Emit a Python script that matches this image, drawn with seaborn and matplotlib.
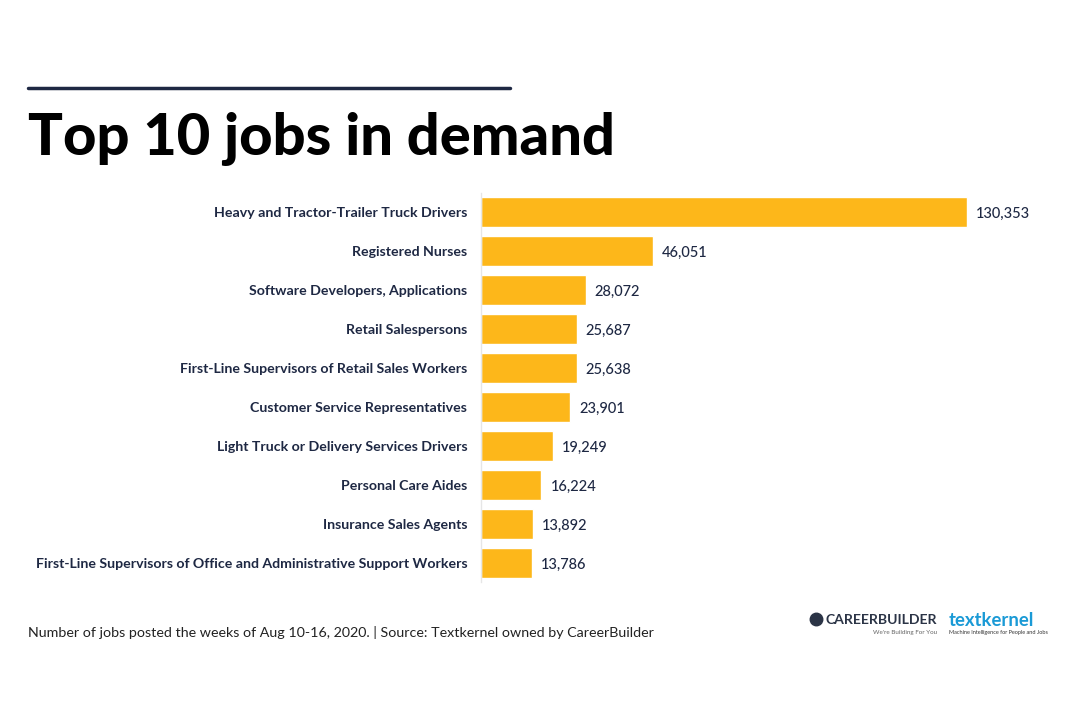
import pandas as pd
import matplotlib.pyplot as plt
import seaborn as sns

jobs = [
    "Heavy and Tractor-Trailer Truck Drivers",
    "Registered Nurses",
    "Software Developers, Applications",
    "Retail Salespersons",
    "First-Line Supervisors of Retail Sales Workers",
    "Customer Service Representatives",
    "Light Truck or Delivery Services Drivers",
    "Personal Care Aides",
    "Insurance Sales Agents",
    "First-Line Supervisors of Office and Administrative Support Workers",
]
postings = [130353, 46051, 28072, 25687, 25638, 23901, 19249, 16224, 13892, 13786]

data = pd.DataFrame({"job": jobs, "postings": postings})

sns.set_style("white")
plt.rcParams["font.family"] = ["Lato", "DejaVu Sans"]

navy = "#1e2843"
gold = "#fdb71a"

fig = plt.figure(figsize=(10.73, 7.17), dpi=100)
ax = fig.add_axes([0.4483, 0.1876, 0.5209, 0.5439])

sns.barplot(x="postings", y="job", data=data, color=gold, width=0.77,
            saturation=1, ax=ax)

ax.set_xlim(0, 150000)
ax.set_xlabel("")
ax.set_ylabel("")
ax.set_xticks([])
for s in ["top", "right", "bottom"]:
    ax.spines[s].set_visible(False)
ax.spines["left"].set_color("#e6e6e6")
ax.spines["left"].set_linewidth(1)
ax.tick_params(axis="y", length=0, pad=10)
for lbl in ax.get_yticklabels():
    lbl.set_fontsize(10.2)
    lbl.set_fontweight("bold")
    lbl.set_color(navy)

for bar, v in zip(ax.patches, postings):
    ax.text(bar.get_width() + 2400, bar.get_y() + bar.get_height() / 2 + 0.04,
            f"{v:,}", va="center", ha="left", fontsize=10.5, color=navy,
            fontweight="medium")

# title with rule above it
fig.add_artist(plt.Line2D([28 / 1073, 510 / 1073], [1 - 88 / 717, 1 - 88 / 717],
                          color=navy, linewidth=2.5))
fig.text(28 / 1073, 1 - 155 / 717, "Top 10 jobs in demand", fontsize=41.7,
         fontweight="black", color="black", va="baseline")

fig.text(28 / 1073, 1 - 637 / 717,
         "Number of jobs posted the weeks of Aug 10-16, 2020. | Source: Textkernel owned by CareerBuilder",
         fontsize=10.3, color="#222222", va="baseline")

# logos as text
fig.add_artist(plt.Line2D([816 / 1073], [1 - 619 / 717], marker="o", markersize=9,
                          color="#2b3446", linestyle="none"))
fig.text(826 / 1073, 1 - 624 / 717, "CAREERBUILDER", fontsize=10.1, fontweight="bold",
         color="#2b3446", va="baseline")
fig.text(937 / 1073, 1 - 634 / 717, "We're Building For You", fontsize=4.5,
         color="#666666", va="baseline", ha="right")
fig.text(949 / 1073, 1 - 626 / 717, "textkernel", fontsize=13.3, fontweight="bold",
         color="#1a9ad6", va="baseline")
fig.text(949 / 1073, 1 - 634 / 717, "Machine Intelligence for People and Jobs",
         fontsize=4, color="#333333", va="baseline")

fig.savefig("out.png", dpi=100)
